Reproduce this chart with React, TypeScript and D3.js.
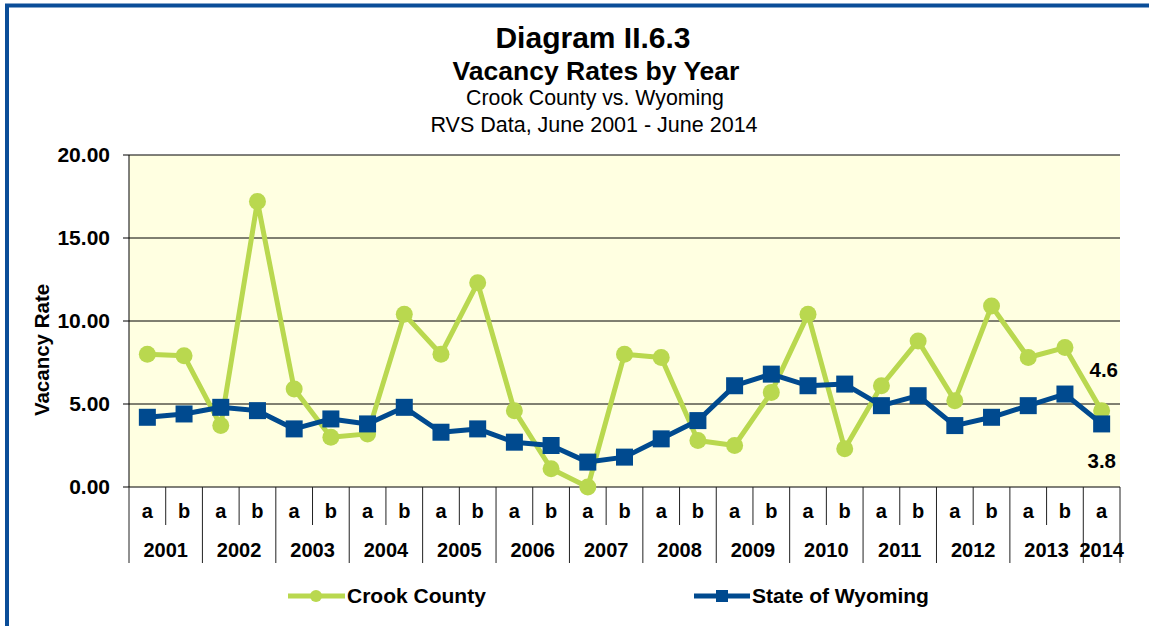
import * as d3 from "d3";

const categories = [
  "2001 a", "2001 b", "2002 a", "2002 b", "2003 a", "2003 b", "2004 a", "2004 b",
  "2005 a", "2005 b", "2006 a", "2006 b", "2007 a", "2007 b", "2008 a", "2008 b",
  "2009 a", "2009 b", "2010 a", "2010 b", "2011 a", "2011 b", "2012 a", "2012 b",
  "2013 a", "2013 b", "2014 a",
];
const crookCounty = [
  8.0, 7.9, 3.7, 17.2, 5.9, 3.0, 3.2, 10.4, 8.0, 12.3, 4.6, 1.1, 0.0, 8.0, 7.8,
  2.8, 2.5, 5.7, 10.4, 2.3, 6.1, 8.8, 5.2, 10.9, 7.8, 8.4, 4.6,
];
const wyoming = [
  4.2, 4.4, 4.8, 4.6, 3.5, 4.1, 3.8, 4.8, 3.3, 3.5, 2.7, 2.5, 1.5, 1.8, 2.9,
  4.0, 6.1, 6.8, 6.1, 6.2, 4.9, 5.5, 3.7, 4.2, 4.9, 5.6, 3.8,
];
const yTicks = [0, 5, 10, 15, 20];

const WIDTH = 1149;
const HEIGHT = 626;
const PLOT = { left: 129, right: 1120, top: 155, bottom: 487 };
const GREEN = "#b9d84f";
const BLUE = "#004a8f";
const FONT = "'Liberation Sans', Arial, sans-serif";

export default function App() {
  const xScale = d3
    .scaleBand()
    .domain(categories)
    .range([PLOT.left, PLOT.right])
    .padding(0);
  const yScale = d3.scaleLinear().domain([0, 20]).range([PLOT.bottom, PLOT.top]);
  const bw = xScale.bandwidth();
  const cx = (c: string) => (xScale(c) as number) + bw / 2;

  const line = d3
    .line<number>()
    .x((_, i) => cx(categories[i]))
    .y((d) => yScale(d));

  // year groups for the second axis row
  const years = Array.from(new Set(categories.map((c) => c.split(" ")[0])));

  const last = categories.length - 1;

  return (
    <svg
      width={WIDTH}
      height={HEIGHT}
      style={{ position: "absolute", left: 0, top: 0, background: "#fff" }}
      fontFamily={FONT}
    >
      {/* frame */}
      <rect x={7} y={5.5} width={1200} height={700} fill="none" stroke="#0a4d98" strokeWidth={4} />

      {/* titles */}
      <g textAnchor="middle" fill="#000">
        <text x={593} y={48} fontSize={30} fontWeight="bold">Diagram II.6.3</text>
        <text x={596} y={80} fontSize={26.5} fontWeight="bold">Vacancy Rates by Year</text>
        <text x={595} y={105} fontSize={21.3}>Crook County vs. Wyoming</text>
        <text x={594} y={131.5} fontSize={21.5}>RVS Data, June 2001 - June 2014</text>
      </g>

      {/* plot background */}
      <rect
        x={PLOT.left}
        y={PLOT.top}
        width={PLOT.right - PLOT.left}
        height={PLOT.bottom - PLOT.top}
        fill="#ffffe1"
      />

      {/* y grid + ticks */}
      {yTicks.map((t) => (
        <g key={t}>
          <line x1={PLOT.left - 6} x2={PLOT.right} y1={yScale(t)} y2={yScale(t)} stroke="#000" strokeWidth={1} />
          <text x={110} y={yScale(t) + 7} textAnchor="end" fontSize={21} fontWeight="bold">
            {t.toFixed(2)}
          </text>
        </g>
      ))}
      <line x1={PLOT.left} x2={PLOT.left} y1={PLOT.top} y2={PLOT.bottom} stroke="#000" />

      {/* category separators */}
      {d3.range(categories.length + 1).map((i) => {
        const x = i === categories.length ? PLOT.right : (xScale(categories[i]) as number);
        const long = i % 2 === 0 || i === categories.length;
        return (
          <line
            key={i}
            x1={x}
            x2={x}
            y1={PLOT.bottom}
            y2={long ? 563 : 525}
            stroke="#222"
            strokeWidth={1}
          />
        );
      })}
      {categories.map((c) => (
        <text key={c} x={cx(c)} y={518} textAnchor="middle" fontSize={20} fontWeight="bold">
          {c.split(" ")[1]}
        </text>
      ))}
      {years.map((y) => {
        const cs = categories.filter((c) => c.startsWith(y));
        const mid = (cx(cs[0]) + cx(cs[cs.length - 1])) / 2;
        return (
          <text key={y} x={mid} y={557} textAnchor="middle" fontSize={20} fontWeight="bold">
            {y}
          </text>
        );
      })}

      {/* axis title */}
      <text
        transform={`translate(49,350) rotate(-90)`}
        textAnchor="middle"
        fontSize={20.5}
        fontWeight="bold"
      >
        Vacancy Rate
      </text>

      {/* Crook County */}
      <path d={line(crookCounty) ?? ""} fill="none" stroke={GREEN} strokeWidth={5} strokeLinejoin="round" />
      {crookCounty.map((v, i) => (
        <circle key={i} cx={cx(categories[i])} cy={yScale(v)} r={8.5} fill={GREEN} />
      ))}

      {/* Wyoming */}
      <path d={line(wyoming) ?? ""} fill="none" stroke={BLUE} strokeWidth={5} strokeLinejoin="round" />
      {wyoming.map((v, i) => (
        <rect key={i} x={cx(categories[i]) - 8.5} y={yScale(v) - 8.5} width={17} height={17} fill={BLUE} />
      ))}

      {/* end labels */}
      <text x={1118} y={yScale(crookCounty[last]) - 34} textAnchor="end" fontSize={20.5} fontWeight="bold">
        {crookCounty[last].toFixed(1)}
      </text>
      <text x={1116} y={yScale(wyoming[last]) + 44} textAnchor="end" fontSize={20.5} fontWeight="bold">
        {wyoming[last].toFixed(1)}
      </text>

      {/* legend */}
      <g>
        <line x1={288} x2={345} y1={596} y2={596} stroke={GREEN} strokeWidth={5} />
        <circle cx={316} cy={596} r={6} fill={GREEN} />
        <text x={347} y={603} fontSize={21} fontWeight="bold">Crook County</text>
        <line x1={694} x2={750} y1={596} y2={596} stroke={BLUE} strokeWidth={5} />
        <rect x={716} y={590} width={12} height={12} fill={BLUE} />
        <text x={752} y={603} fontSize={21} fontWeight="bold">State of Wyoming</text>
      </g>
    </svg>
  );
}
